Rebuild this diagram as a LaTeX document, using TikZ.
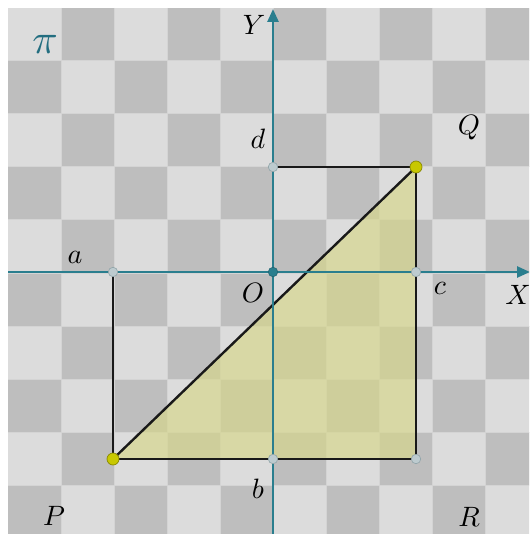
\documentclass[tikz,border=0pt]{standalone}
\usetikzlibrary{arrows.meta}
\definecolor{lightsq}{HTML}{DCDCDC}
\definecolor{darksq}{HTML}{BEBEBE}
\definecolor{gridln}{HTML}{D4D4D4}
\definecolor{axiscol}{HTML}{2A7E8E}
\definecolor{pical}{HTML}{236E80}
\definecolor{fillyel}{HTML}{D7D789}
\definecolor{ptyel}{HTML}{C8C800}
\definecolor{ptyeldark}{HTML}{8A8A00}
\definecolor{ptgray}{HTML}{BDCBCF}
\definecolor{ptgraydark}{HTML}{8FA3A8}
\tikzset{
  seg/.style={draw=black!90, line width=2.4pt, line join=round},
  axisline/.style={draw=axiscol, line width=2.6pt, -{Triangle[length=13pt,width=11pt]}},
  gpt/.style={circle, fill=ptgray, draw=ptgraydark, line width=0.6pt, minimum size=9.5pt, inner sep=0pt},
  opt/.style={circle, fill=axiscol, draw=axiscol!80!black, line width=0.6pt, minimum size=9.5pt, inner sep=0pt},
  ypt/.style={circle, fill=ptyel, draw=ptyeldark, line width=0.7pt, minimum size=12pt, inner sep=0pt},
  lbl/.style={inner sep=0pt, scale=2.8},
}
\begin{document}
\begin{tikzpicture}[x=1pt,y=-1pt]
\useasboundingbox (0,0) rectangle (529,534);
\fill[white] (0,0) rectangle (529,534);
\begin{scope}
\clip (0,0) rectangle (529,534);
% checkerboard
\fill[lightsq] (8,8) rectangle (540,540);
\foreach \i in {0,...,9}{
  \foreach \j in {0,...,9}{
    \pgfmathtruncatemacro\s{mod(\i+\j,2)}
    \ifnum\s=1 \fill[darksq] ({8+53*\i},{8+53*\j}) rectangle ({61+53*\i},{61+53*\j}); \fi
  }
}
\foreach \k in {1,...,9}{
  \draw[gridln, line width=1pt] ({8+53*\k},8) -- ({8+53*\k},540);
  \draw[gridln, line width=1pt] (8,{8+53*\k}) -- (540,{8+53*\k});
}
% points
\coordinate (O) at (273,272);
\coordinate (a) at (113,272);
\coordinate (b) at (273,459);
\coordinate (c) at (416,272);
\coordinate (d) at (273,167);
\coordinate (P) at (113,459);
\coordinate (Q) at (416,167);
\coordinate (R) at (416,459);
\coordinate (xs) at (8,272);
\coordinate (xe) at (530,272);
\coordinate (ys) at (273,540);
\coordinate (ye) at (273,9);
% triangle fill
\fill[fillyel, opacity=0.65] (P) -- (Q) -- (R) -- cycle;
% segments
\draw[seg] (a) -- (P);
\draw[seg] (P) -- (R);
\draw[seg] (R) -- (Q);
\draw[seg] (Q) -- (d);
\draw[seg] (P) -- (Q);
% axes
\draw[axisline] (xs) -- (xe);
\draw[axisline] (ys) -- (ye);
% point marks
\node[gpt] (pa) at (a) {};
\node[gpt] (pb) at (b) {};
\node[gpt] (pc) at (c) {};
\node[gpt] (pd) at (d) {};
\node[gpt] (pR) at (R) {};
\node[opt] (pO) at (O) {};
\node[ypt] (pP) at (P) {};
\node[ypt] (pQ) at (Q) {};
% labels
\node[inner sep=0pt, text=pical, scale=4.2] (lpi) at (45,44) {$\pi$};
\node[lbl] (lY) at (254,25) {$Y$};
\node[lbl] (ld) at (258,139) {$d$};
\node[lbl] (la) at (75,257) {$a$};
\node[lbl] (lO) at (253,293) {$O$};
\node[lbl] (lc) at (440,288) {$c$};
\node[lbl] (lX) at (518,295) {$X$};
\node[lbl] (lQ) at (469,128) {$Q$};
\node[lbl] (lb) at (258,489) {$b$};
\node[lbl] (lP) at (54,516) {$P$};
\node[lbl] (lR) at (469,517) {$R$};
\end{scope}
\end{tikzpicture}
\end{document}
